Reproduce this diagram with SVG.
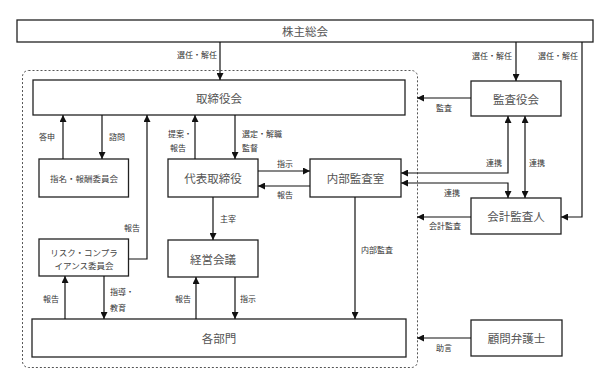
<svg xmlns="http://www.w3.org/2000/svg" width="613" height="387" viewBox="0 0 613 387">
<style>
.box{fill:#fff;stroke:#222;stroke-width:1.3}
.t{font-family:"Noto Sans CJK JP","Noto Sans",sans-serif;font-size:11.5px;fill:#555;text-anchor:middle;dominant-baseline:central}
.s{font-family:"Noto Sans CJK JP","Noto Sans",sans-serif;font-size:8px;fill:#333;text-anchor:middle;dominant-baseline:central}
.c{font-family:"Noto Sans CJK JP","Noto Sans",sans-serif;font-size:8.5px;fill:#444;text-anchor:middle;dominant-baseline:central}
.l{text-anchor:start}
.e{fill:none;stroke:#111;stroke-width:1.2;marker-end:url(#ah)}
.b{marker-start:url(#ah)}
</style>
<defs>
<marker id="ah" markerUnits="userSpaceOnUse" markerWidth="7" markerHeight="7" refX="7" refY="3.5" orient="auto-start-reverse">
<path d="M0,0 L7,3.5 L0,7 z" fill="#111"/>
</marker>
</defs>
<rect width="613" height="387" fill="#fff"/>
<rect x="22.5" y="70.5" width="395" height="297" rx="6" fill="none" stroke="#555" stroke-width="1" stroke-dasharray="2,2"/>

<g id="kabunushi"><rect class="box" x="17" y="20" width="576" height="22"/><text class="t" x="305" y="31">株主総会</text></g>
<g id="torishimariyakukai"><rect class="box" x="33" y="80" width="372" height="35"/><text class="t" x="219" y="97.5">取締役会</text></g>
<g id="kansayakukai"><rect class="box" x="471" y="81" width="90" height="35"/><text class="t" x="516" y="98.5">監査役会</text></g>
<g id="shimei"><rect class="box" x="39" y="159" width="89.5" height="38"/><text class="c" x="84" y="178">指名・報酬委員会</text></g>
<g id="daihyo"><rect class="box" x="168" y="159" width="90" height="38"/><text class="t" x="213" y="178">代表取締役</text></g>
<g id="naibukansa"><rect class="box" x="310" y="159" width="91" height="38"/><text class="t" x="355.5" y="178">内部監査室</text></g>
<g id="kaikei"><rect class="box" x="471" y="198" width="90" height="36"/><text class="t" x="516" y="216">会計監査人</text></g>
<g id="risk"><rect class="box" x="39" y="239" width="89.5" height="37"/><text class="c" x="84" y="252">リスク・コンプラ</text><text class="c" x="84" y="264.5">イアンス委員会</text></g>
<g id="keiei"><rect class="box" x="168" y="240" width="90" height="37"/><text class="t" x="213" y="258.5">経営会議</text></g>
<g id="kakubumon"><rect class="box" x="32" y="319" width="374" height="38"/><text class="t" x="219" y="338">各部門</text></g>
<g id="komon"><rect class="box" x="471" y="320" width="91" height="36"/><text class="t" x="516.5" y="338">顧問弁護士</text></g>

<g id="connectors">
<path class="e" d="M220,42 V80"/>
<path class="e" d="M516,42 V81"/>
<path class="e" d="M582,42 V217 H561"/>
<path class="e" d="M471,98 H417"/>
<path class="e" d="M63,159 V115"/>
<path class="e" d="M102,115 V159"/>
<path class="e" d="M128.5,259 H147 V115"/>
<path class="e" d="M195,159 V115"/>
<path class="e" d="M235,115 V159"/>
<path class="e" d="M258,171 H310"/>
<path class="e" d="M310,186 H258"/>
<path class="e" d="M213,197 V240"/>
<path class="e" d="M355,197 V319"/>
<path class="e b" d="M508,116 V173 H401"/>
<path class="e b" d="M401,183 H508 V198"/>
<path class="e b" d="M525,116 V198"/>
<path class="e" d="M471,217 H417"/>
<path class="e" d="M471,338 H417"/>
<path class="e" d="M65,319 V276"/>
<path class="e" d="M104,276 V319"/>
<path class="e" d="M196,319 V277"/>
<path class="e" d="M235,277 V319"/>

<text class="s" x="197" y="54">選任・解任</text>
<text class="s" x="492" y="55">選任・解任</text>
<text class="s" x="558" y="55">選任・解任</text>
<text class="s" x="444" y="107.5">監査</text>
<text class="s" x="47" y="136">答申</text>
<text class="s" x="117" y="136">諮問</text>
<text class="s" x="180" y="133">提案・</text>
<text class="s" x="178" y="147">報告</text>
<text class="s l" x="242" y="133">選定・解職</text>
<text class="s l" x="242" y="147">監督</text>
<text class="s" x="285" y="163">指示</text>
<text class="s" x="285" y="194">報告</text>
<text class="s" x="228" y="218.5">主宰</text>
<text class="s" x="132" y="227">報告</text>
<text class="s" x="377" y="249">内部監査</text>
<text class="s" x="494" y="162">連携</text>
<text class="s" x="537" y="162">連携</text>
<text class="s" x="452" y="192">連携</text>
<text class="s" x="445" y="225">会計監査</text>
<text class="s" x="444" y="347">助言</text>
<text class="s" x="51" y="298">報告</text>
<text class="s l" x="110" y="291">指導・</text>
<text class="s l" x="110" y="307">教育</text>
<text class="s" x="183" y="298">報告</text>
<text class="s" x="248" y="298">指示</text>
</g>
</svg>
